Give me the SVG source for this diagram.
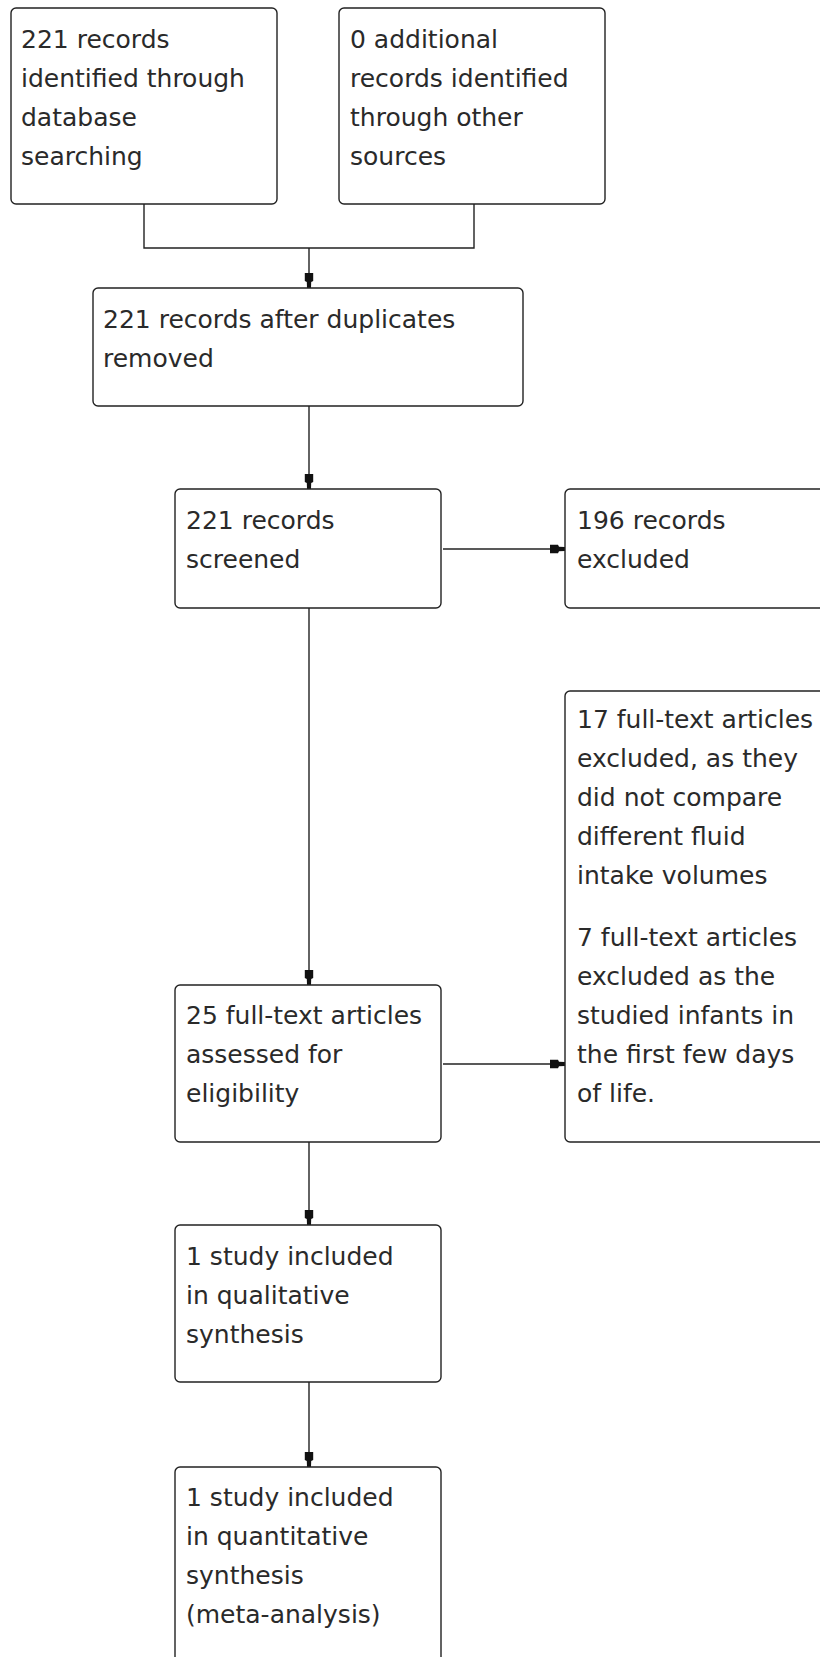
<svg xmlns="http://www.w3.org/2000/svg" width="820" height="1657" viewBox="0 0 820 1657">
<style>
.box{fill:#fff;stroke:#222;stroke-width:1.4}
.t{font-family:"DejaVu Sans","Liberation Sans",sans-serif;font-size:25px;fill:#2a2a2a}
.c{fill:none;stroke:#222;stroke-width:1.4}
</style>
<defs>
<marker id="ah" viewBox="0 0 16 10" refX="16" refY="5" markerWidth="16" markerHeight="10" markerUnits="userSpaceOnUse" orient="auto">
<path d="M1,0.8 L9,0.8 L10,2.8 L16,3 L16,7 L10,7.2 L9,9.2 L1,9.2 Z" fill="#111"/>
</marker>
</defs>
<rect width="820" height="1657" fill="#fff"/>
<g id="connectors">
<path class="c" d="M144,204 V248 H474 V204"/>
<path class="c" d="M309,248 V288" marker-end="url(#ah)"/>
<path class="c" d="M309,406 V489" marker-end="url(#ah)"/>
<path class="c" d="M443,549 H565" marker-end="url(#ah)"/>
<path class="c" d="M309,608 V985" marker-end="url(#ah)"/>
<path class="c" d="M443,1064 H565" marker-end="url(#ah)"/>
<path class="c" d="M309,1142 V1225" marker-end="url(#ah)"/>
<path class="c" d="M309,1382 V1467" marker-end="url(#ah)"/>
</g>
<g id="n1">
<rect class="box" x="11" y="8" width="266" height="196" rx="5"/>
<text class="t"><tspan x="21" y="48">221 records</tspan><tspan x="21" y="87">identified through</tspan><tspan x="21" y="126">database</tspan><tspan x="21" y="165">searching</tspan></text>
</g>
<g id="n2">
<rect class="box" x="339" y="8" width="266" height="196" rx="5"/>
<text class="t"><tspan x="350" y="48">0 additional</tspan><tspan x="350" y="87">records identified</tspan><tspan x="350" y="126">through other</tspan><tspan x="350" y="165">sources</tspan></text>
</g>
<g id="n3">
<rect class="box" x="93" y="288" width="430" height="118" rx="5"/>
<text class="t"><tspan x="103" y="327.5">221 records after duplicates</tspan><tspan x="103" y="366.5">removed</tspan></text>
</g>
<g id="n4">
<rect class="box" x="175" y="489" width="266" height="119" rx="5"/>
<text class="t"><tspan x="186" y="529">221 records</tspan><tspan x="186" y="568">screened</tspan></text>
</g>
<g id="n5">
<rect class="box" x="565" y="489" width="280" height="119" rx="5"/>
<text class="t"><tspan x="577" y="529">196 records</tspan><tspan x="577" y="568">excluded</tspan></text>
</g>
<g id="n6">
<rect class="box" x="565" y="691" width="280" height="451" rx="5"/>
<text class="t"><tspan x="577" y="728">17 full-text articles</tspan><tspan x="577" y="767">excluded, as they</tspan><tspan x="577" y="806">did not compare</tspan><tspan x="577" y="845">different fluid</tspan><tspan x="577" y="884">intake volumes</tspan></text>
<text class="t"><tspan x="577" y="946">7 full-text articles</tspan><tspan x="577" y="985">excluded as the</tspan><tspan x="577" y="1024">studied infants in</tspan><tspan x="577" y="1063">the first few days</tspan><tspan x="577" y="1102">of life.</tspan></text>
</g>
<g id="n7">
<rect class="box" x="175" y="985" width="266" height="157" rx="5"/>
<text class="t"><tspan x="186" y="1024">25 full-text articles</tspan><tspan x="186" y="1063">assessed for</tspan><tspan x="186" y="1102">eligibility</tspan></text>
</g>
<g id="n8">
<rect class="box" x="175" y="1225" width="266" height="157" rx="5"/>
<text class="t"><tspan x="186" y="1265">1 study included</tspan><tspan x="186" y="1304">in qualitative</tspan><tspan x="186" y="1343">synthesis</tspan></text>
</g>
<g id="n9">
<rect class="box" x="175" y="1467" width="266" height="230" rx="5"/>
<text class="t"><tspan x="186" y="1505.5">1 study included</tspan><tspan x="186" y="1544.5">in quantitative</tspan><tspan x="186" y="1583.5">synthesis</tspan><tspan x="186" y="1622.5">(meta-analysis)</tspan></text>
</g>
</svg>
